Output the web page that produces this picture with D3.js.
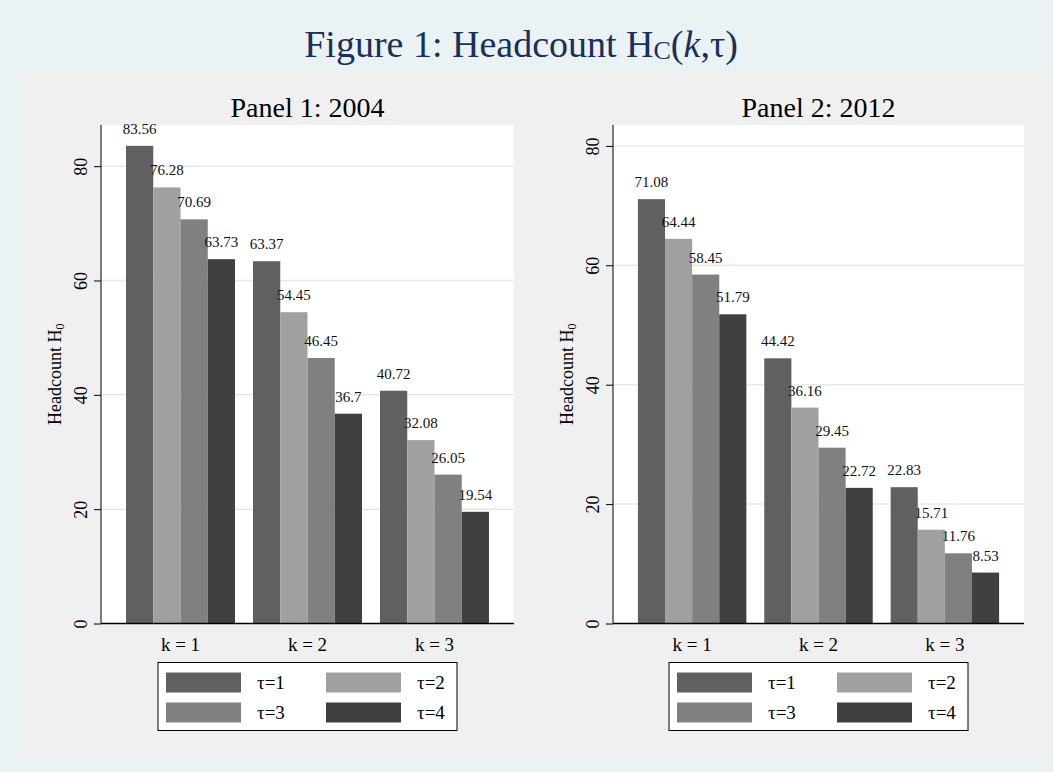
<!DOCTYPE html>
<html>
<head>
<meta charset="utf-8">
<script src="https://cdn.jsdelivr.net/npm/d3@7"></script>
<style>
  body { margin: 0; background: #eaf2f3; }
  svg text { font-family: "Liberation Serif", "Times New Roman", serif; }
</style>
</head>
<body>
<svg id="chart" width="1053" height="772"></svg>
<script>
// data
var groups = ["k = 1", "k = 2", "k = 3"];
var taus = ["τ=1", "τ=2", "τ=3", "τ=4"];
var values2004 = [
    [83.56, 76.28, 70.69, 63.73],
    [63.37, 54.45, 46.45, 36.7],
    [40.72, 32.08, 26.05, 19.54]
];
var values2012 = [
    [71.08, 64.44, 58.45, 51.79],
    [44.42, 36.16, 29.45, 22.72],
    [22.83, 15.71, 11.76, 8.53]
];
var yTicks = [0, 20, 40, 60, 80];
var tauColors = ["#606060", "#a0a0a0", "#808080", "#404040"];

var svg = d3.select("#chart");

svg.append("rect").attr("width", 1053).attr("height", 772).attr("fill", "#eaf2f3");
svg.append("rect").attr("x", 22).attr("y", 72).attr("width", 1023).attr("height", 685).attr("fill", "#f0f0f0");

// main title
var title = svg.append("text")
    .attr("x", 521).attr("y", 57)
    .attr("text-anchor", "middle")
    .attr("fill", "#1a2f5c")
    .attr("font-size", 38);
title.append("tspan").text("Figure 1: Headcount H");
title.append("tspan").attr("font-size", 26).attr("dy", 2).text("C");
title.append("tspan").attr("dy", -2).text("(");
title.append("tspan").attr("font-style", "italic").text("k");
title.append("tspan").text(",τ)");

function drawPanel(opts) {
    var left = opts.left, right = opts.right, top = 125, bottom = 623.5;

    var x = d3.scaleBand()
        .domain(groups)
        .range([left, right])
        .paddingInner(0.1417)
        .paddingOuter(0.197);
    var xInner = d3.scaleBand()
        .domain(d3.range(taus.length))
        .range([0, x.bandwidth()]);
    var y = d3.scaleLinear()
        .domain([0, opts.yMax])
        .range([bottom, top]);

    var g = svg.append("g");

    // plot area
    g.append("rect")
        .attr("x", left).attr("y", top)
        .attr("width", right - left).attr("height", bottom - top)
        .attr("fill", "#ffffff");

    // grid lines
    g.append("g")
        .selectAll("line")
        .data(yTicks.filter(function (d) { return d > 0; }))
        .enter().append("line")
        .attr("x1", left).attr("x2", right)
        .attr("y1", function (d) { return y(d); })
        .attr("y2", function (d) { return y(d); })
        .attr("stroke", "#e8e8e8")
        .attr("stroke-width", 1.5);

    // bars
    var grp = g.append("g")
        .selectAll("g")
        .data(opts.values)
        .enter().append("g")
        .attr("transform", function (d, i) { return "translate(" + x(groups[i]) + ",0)"; });

    grp.selectAll("rect")
        .data(function (d) { return d; })
        .enter().append("rect")
        .attr("x", function (d, i) { return xInner(i); })
        .attr("y", function (d) { return y(d); })
        .attr("width", xInner.bandwidth())
        .attr("height", function (d) { return bottom - y(d); })
        .attr("fill", function (d, i) { return tauColors[i]; });

    grp.selectAll("text")
        .data(function (d) { return d; })
        .enter().append("text")
        .attr("x", function (d, i) { return xInner(i) + xInner.bandwidth() / 2; })
        .attr("y", function (d) { return y(d) - 12; })
        .attr("text-anchor", "middle")
        .attr("font-size", 15)
        .attr("fill", "#111")
        .text(function (d) { return d; });

    // y axis
    var yAxis = g.append("g")
        .attr("transform", "translate(" + left + ",0)")
        .call(d3.axisLeft(y).tickValues(yTicks).tickSize(7).tickPadding(0).tickFormat(d3.format("d")));
    yAxis.select(".domain").attr("d", "M0," + top + "V" + bottom).attr("stroke", "#000");
    yAxis.selectAll(".tick line").attr("stroke", "#000");
    yAxis.selectAll(".tick text")
        .attr("font-family", "Liberation Serif, serif")
        .attr("font-size", 18)
        .attr("fill", "#000")
        .attr("text-anchor", "middle")
        .attr("transform", "translate(-20,0) rotate(-90)")
        .attr("x", 0).attr("dy", "0.35em");

    // x axis
    g.append("line")
        .attr("x1", left).attr("x2", right)
        .attr("y1", bottom).attr("y2", bottom)
        .attr("stroke", "#000").attr("stroke-width", 1.5);

    g.append("g")
        .selectAll("text")
        .data(groups)
        .enter().append("text")
        .attr("x", function (d) { return x(d) + x.bandwidth() / 2; })
        .attr("y", 651)
        .attr("text-anchor", "middle")
        .attr("font-size", 19)
        .text(function (d) { return d; });

    // axis title
    var yt = g.append("text")
        .attr("transform", "translate(" + (left - 40) + "," + ((top + bottom) / 2) + ") rotate(-90)")
        .attr("text-anchor", "middle")
        .attr("font-size", 18);
    yt.append("tspan").text("Headcount H");
    yt.append("tspan").attr("font-size", 12).attr("dy", 3).text("0");

    // panel title
    g.append("text")
        .attr("x", (left + right) / 2).attr("y", 117)
        .attr("text-anchor", "middle")
        .attr("font-size", 28)
        .text(opts.title);

    // legend
    var lw = 299, lh = 68;
    var lx = (left + right) / 2 - lw / 2, ly = 662.5;
    var lg = g.append("g").attr("transform", "translate(" + lx + "," + ly + ")");
    lg.append("rect")
        .attr("width", lw).attr("height", lh)
        .attr("fill", "#fff").attr("stroke", "#000").attr("stroke-width", 1);
    var item = lg.selectAll("g.item")
        .data(taus)
        .enter().append("g")
        .attr("class", "item")
        .attr("transform", function (d, i) {
            return "translate(" + (8 + (i % 2) * 160) + "," + (10 + Math.floor(i / 2) * 30) + ")";
        });
    item.append("rect")
        .attr("width", 75).attr("height", 20)
        .attr("fill", function (d, i) { return tauColors[i]; });
    item.append("text")
        .attr("x", 91).attr("y", 16)
        .attr("font-size", 19)
        .text(function (d) { return d; });
}

drawPanel({ left: 101, right: 514, yMax: 87.2, values: values2004, title: "Panel 1: 2004" });
drawPanel({ left: 613, right: 1024, yMax: 83.5, values: values2012, title: "Panel 2: 2012" });
</script>
</body>
</html>
